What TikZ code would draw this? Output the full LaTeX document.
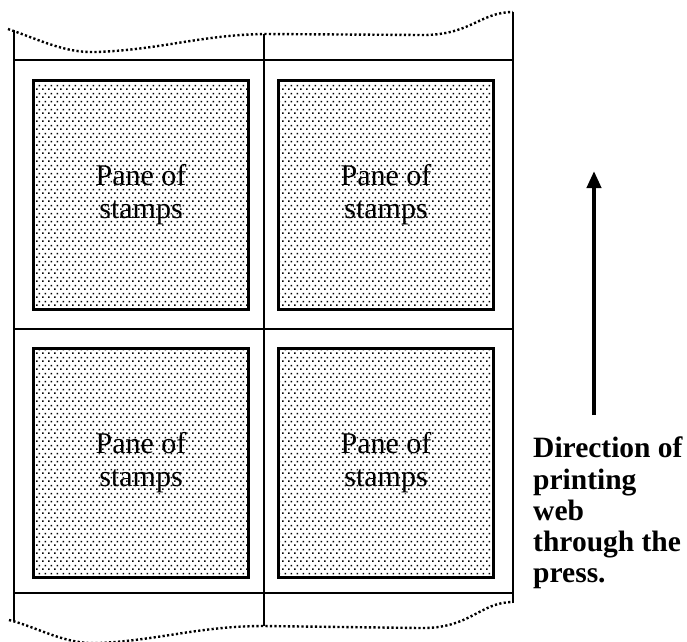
\documentclass[tikz,border=0pt]{standalone}
\usepackage{fontspec}
\setmainfont{Liberation Serif}
\usetikzlibrary{arrows.meta,patterns}

% staggered dot screen used for the stamp panes
\pgfdeclarepatternformonly{stampdots}{\pgfpointorigin}{\pgfpoint{6pt}{8pt}}{\pgfpoint{6pt}{8pt}}{%
  \pgfpathrectangle{\pgfpoint{0pt}{0pt}}{\pgfpoint{1.8pt}{1.8pt}}%
  \pgfpathrectangle{\pgfpoint{3pt}{4pt}}{\pgfpoint{1.8pt}{1.8pt}}%
  \pgfusepath{fill}}

\tikzset{
  pane/.style={draw, line width=2.8pt, pattern=stampdots,
    minimum width=215pt, minimum height=229pt, inner sep=0pt,
    align=center, font=\fontsize{30}{33}\selectfont},
  webline/.style={line width=2.8pt},
  tornedge/.style={line width=2.4pt, dash pattern=on 2.2pt off 2.3pt},
  feedarrow/.style={line width=4pt, -{Triangle[length=17pt,width=14pt]}},
  caption/.style={align=left, anchor=north west, inner sep=0pt,
    font=\bfseries\fontsize{29.5}{31.2}\selectfont}
}

\begin{document}
\begin{tikzpicture}[x=1pt,y=-1pt]
\useasboundingbox (0,0) rectangle (687,641);

% torn top and bottom edges of the web
\draw[tornedge] (8,29) .. controls (40,40) and (65,53) .. (95,52)
  .. controls (160,50) and (200,35) .. (264,34)
  -- (420,35) .. controls (470,36) and (480,12) .. (513,12);
\draw[tornedge] (9,620) .. controls (40,628) and (65,645) .. (100,643)
  .. controls (160,640) and (200,626) .. (264,626)
  -- (420,628) .. controls (470,629) and (480,602) .. (513,602);

% web edges and cutting lines
\coordinate (lt) at (14,30);   \coordinate (lb) at (14,621);
\coordinate (mt) at (264,34);  \coordinate (mb) at (264,626);
\coordinate (rt) at (513,12);  \coordinate (rb) at (513,603);
\coordinate (h1l) at (14,60);  \coordinate (h1r) at (513,60);
\coordinate (h2l) at (14,329); \coordinate (h2r) at (513,329);
\coordinate (h3l) at (14,593); \coordinate (h3r) at (513,593);
\draw[webline] (lt) -- (lb) (mt) -- (mb) (rt) -- (rb);
\draw[webline] (h1l) -- (h1r) (h2l) -- (h2r) (h3l) -- (h3r);

% four panes
\node[pane] (p11) at (141,195) {Pane of\\stamps};
\node[pane] (p12) at (386,195) {Pane of\\stamps};
\node[pane] (p21) at (141,463) {Pane of\\stamps};
\node[pane] (p22) at (386,463) {Pane of\\stamps};

% feed direction
\coordinate (tail) at (594,415);
\coordinate (tip) at (594,171);
\draw[feedarrow] (tail) -- (tip);
\node[caption] (cap) at (533,437) {Direction of\\printing\\web\\through the\\press.};
\end{tikzpicture}
\end{document}
